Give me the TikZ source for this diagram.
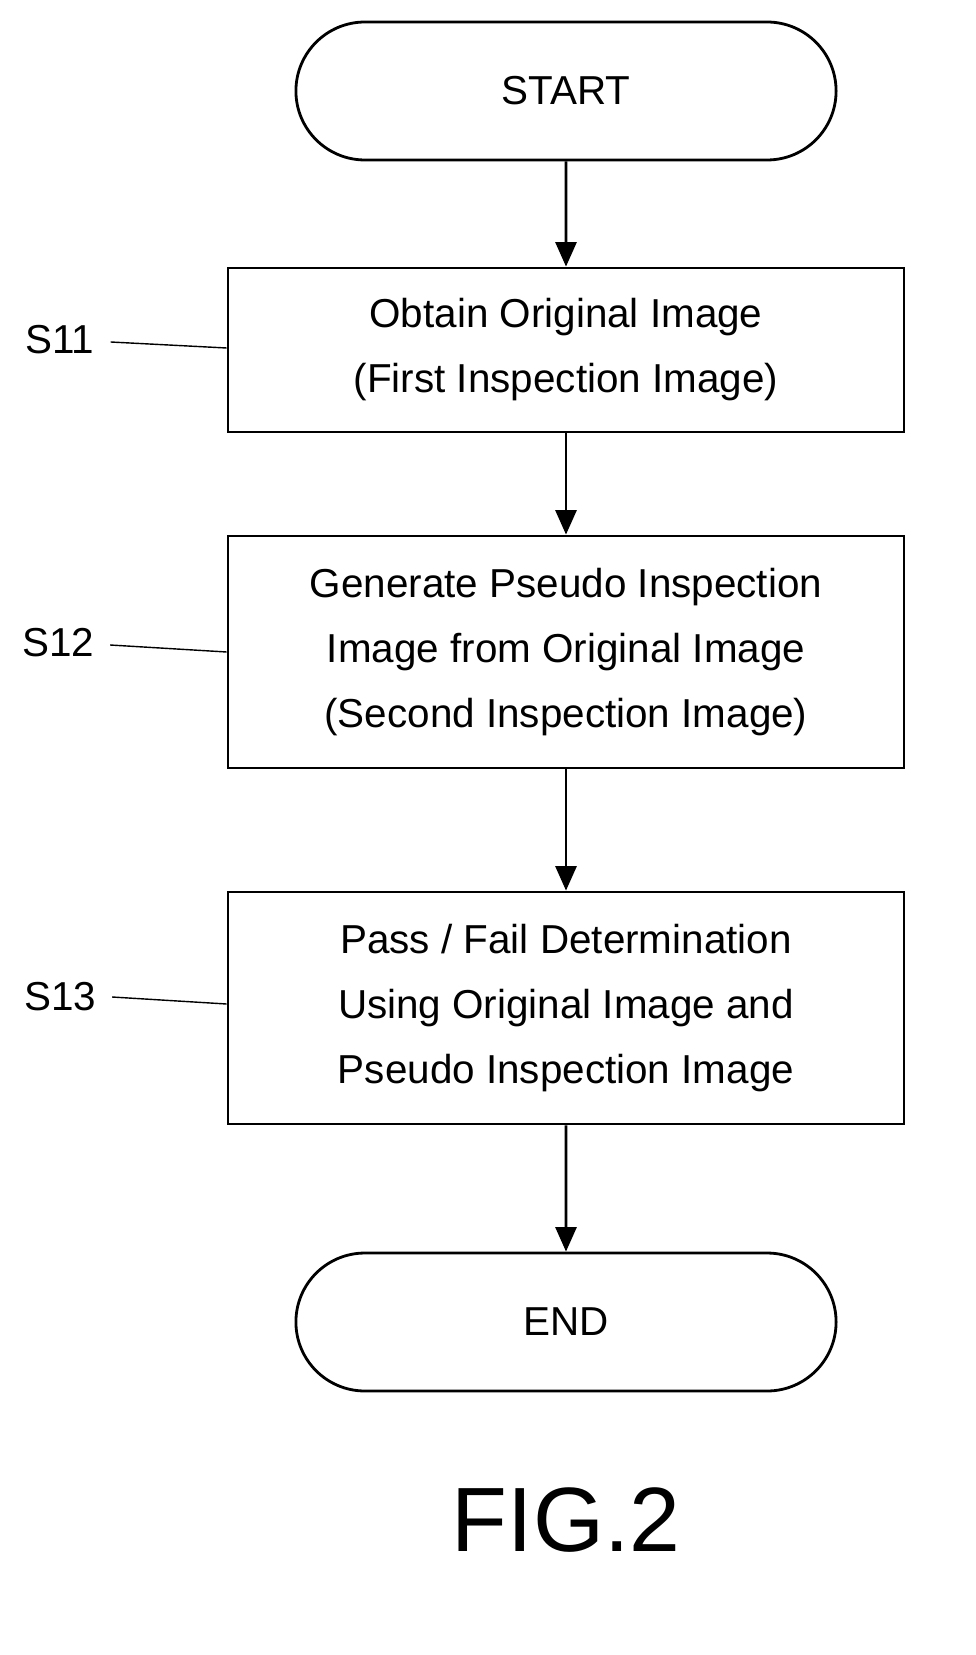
\documentclass[tikz,border=0pt]{standalone}
\usepackage{fontspec}
\setmainfont{Liberation Sans}
\usetikzlibrary{arrows.meta,shapes.misc}

\tikzset{
  term/.style={draw, line width=1.6pt, rounded rectangle, minimum width=11.04cm, minimum height=2.76cm, font=\fontsize{23}{28}\selectfont},
  proc/.style={draw, line width=1.6pt, rectangle, minimum width=13.52cm, align=center, font=\fontsize{23}{37}\selectfont},
  flow/.style={-{Triangle[length=14pt,width=12pt]}, line width=1.6pt},
  tag/.style={font=\fontsize{23}{28}\selectfont},
  lead/.style={line width=0.8pt}
}

\begin{document}
\begin{tikzpicture}[x=0.02cm,y=-0.02cm]
\useasboundingbox (0,0) rectangle (976,1655);

\node[term] (start) at (566,91) {START};

\node[proc, minimum height=3.28cm] (s11) at (566,350) {Obtain Original Image\\(First Inspection Image)};

\node[proc, minimum height=4.64cm] (s12) at (566,652) {Generate Pseudo Inspection\\Image from Original Image\\(Second Inspection Image)};

\node[proc, minimum height=4.64cm] (s13) at (566,1008) {Pass / Fail Determination\\Using Original Image and\\Pseudo Inspection Image};

\node[term] (end) at (566,1322) {END};

% step labels
\node[tag] (t11) at (60,340) {S11};
\node[tag] (t12) at (58,643) {S12};
\node[tag] (t13) at (60,997) {S13};
\draw[lead] (t11.east) ++(10,2) -- (s11.west |- 0,348);
\draw[lead] (t12.east) ++(10,2) -- (s12.west |- 0,652);
\draw[lead] (t13.east) ++(10,0) -- (s13.west |- 0,1004);

% arrows
\draw[flow] (start) -- (s11);
\draw[flow] (s11) -- (s12);
\draw[flow] (s12) -- (s13);
\draw[flow] (s13) -- (end);

\node[font=\fontsize{52}{60}\selectfont] (fig) at (566,1520) {FIG.2};
\end{tikzpicture}
\end{document}
